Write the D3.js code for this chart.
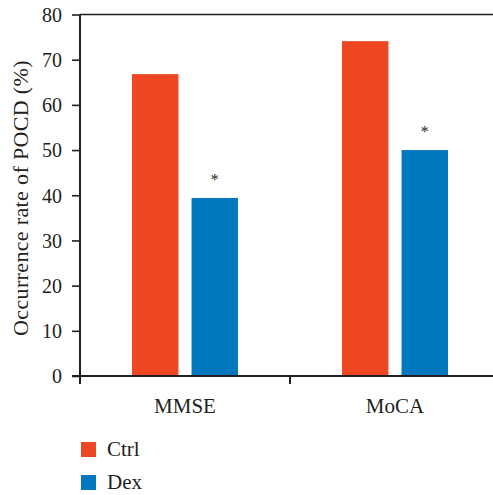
<!DOCTYPE html>
<html><head><meta charset="utf-8">
<script src="https://cdn.jsdelivr.net/npm/d3@7"></script>
<style>body{margin:0;background:#fff}svg{display:block}svg text{font-family:"Liberation Serif","DejaVu Serif",serif !important;fill:#231f20}</style>
</head><body><div id="chart"></div>
<script>
const categories = ["MMSE", "MoCA"];
const seriesNames = ["Ctrl", "Dex"];
const ctrlValues = [66.8, 74.1];
const dexValues = [39.4, 50.0];
const significant = [true, true];
const yTicks = [0, 10, 20, 30, 40, 50, 60, 70, 80];
const colors = ["#ef4623", "#0077bf"];

const W = 493, H = 495;
const FONT = "'Liberation Serif', 'DejaVu Serif', serif";
const svg = d3.select("#chart").append("svg").attr("width", W).attr("height", H);
const x0 = 80, xEnd = 500, yTop = 14.5, yBot = 376;
const x = d3.scaleBand().domain(categories).range([x0, xEnd]).paddingInner(0).paddingOuter(0);
const x1 = d3.scaleBand().domain(seriesNames).range([52, 158]).paddingInner(0.22);
const y = d3.scaleLinear().domain([0, 80]).range([yBot, yTop]);

const color = "#231f20";
// y axis
const yAxis = svg.append("g").attr("transform", `translate(${x0},0)`)
  .call(d3.axisLeft(y).tickValues(yTicks).tickSize(8).tickPadding(10));
yAxis.attr("font-family", FONT);
yAxis.select(".domain").remove();
yAxis.selectAll("line").attr("stroke", color).attr("stroke-width", 1.6);
yAxis.selectAll("text").attr("font-size", 20).attr("dy", "0.34em").style("fill", color);
svg.append("line").attr("x1", x0).attr("x2", x0).attr("y1", yTop).attr("y2", yBot + 8)
  .attr("stroke", color).attr("stroke-width", 2);
// top border
svg.append("line").attr("x1", x0).attr("x2", W).attr("y1", yTop).attr("y2", yTop)
  .attr("stroke", color).attr("stroke-width", 1.6);

// bars
const groups = svg.append("g").selectAll("g").data(categories).join("g")
  .attr("transform", d => `translate(${x(d)},0)`);
groups.selectAll("rect").data((d, i) => [ctrlValues[i], dexValues[i]].map((v, j) => ({s: seriesNames[j], v, j})))
  .join("rect")
  .attr("x", d => x1(d.s)).attr("width", x1.bandwidth())
  .attr("y", d => y(d.v)).attr("height", d => yBot - y(d.v))
  .attr("fill", d => colors[d.j]);
groups.each(function(d, i) {
  if (significant[i]) d3.select(this).append("text")
    .attr("x", x1("Dex") + x1.bandwidth() / 2).attr("y", y(dexValues[i]) - 13)
    .attr("text-anchor", "middle").attr("font-family", FONT).attr("font-size", 16).text("*");
});

// x axis
const xAxis = svg.append("g").attr("transform", `translate(0,${yBot})`)
  .call(d3.axisBottom(x).tickSize(0).tickPadding(22));
xAxis.attr("font-family", FONT);
xAxis.select(".domain").remove();
xAxis.selectAll("text").attr("font-size", 21).style("fill", color);
svg.append("line").attr("x1", x0 - 8).attr("x2", W).attr("y1", yBot).attr("y2", yBot)
  .attr("stroke", color).attr("stroke-width", 2.2);
svg.append("g").selectAll("line").data(categories.slice(1)).join("line")
  .attr("x1", d => x(d)).attr("x2", d => x(d)).attr("y1", yBot).attr("y2", yBot + 8)
  .attr("stroke", color).attr("stroke-width", 2);

// y title
svg.append("text").attr("transform", `translate(28,198) rotate(-90)`)
  .attr("text-anchor", "middle").attr("font-family", FONT).attr("font-size", 22)
  .attr("letter-spacing", 0.35).text("Occurrence rate of POCD (%)");

// legend
const leg = svg.append("g").selectAll("g").data(seriesNames).join("g")
  .attr("transform", (d, i) => `translate(81,${442 + i * 33})`);
leg.append("rect").attr("width", 15).attr("height", 15).attr("fill", (d, i) => colors[i]);
leg.append("text").attr("x", 26).attr("y", 14).attr("font-family", FONT).attr("font-size", 21).text(d => d);
</script></body></html>
